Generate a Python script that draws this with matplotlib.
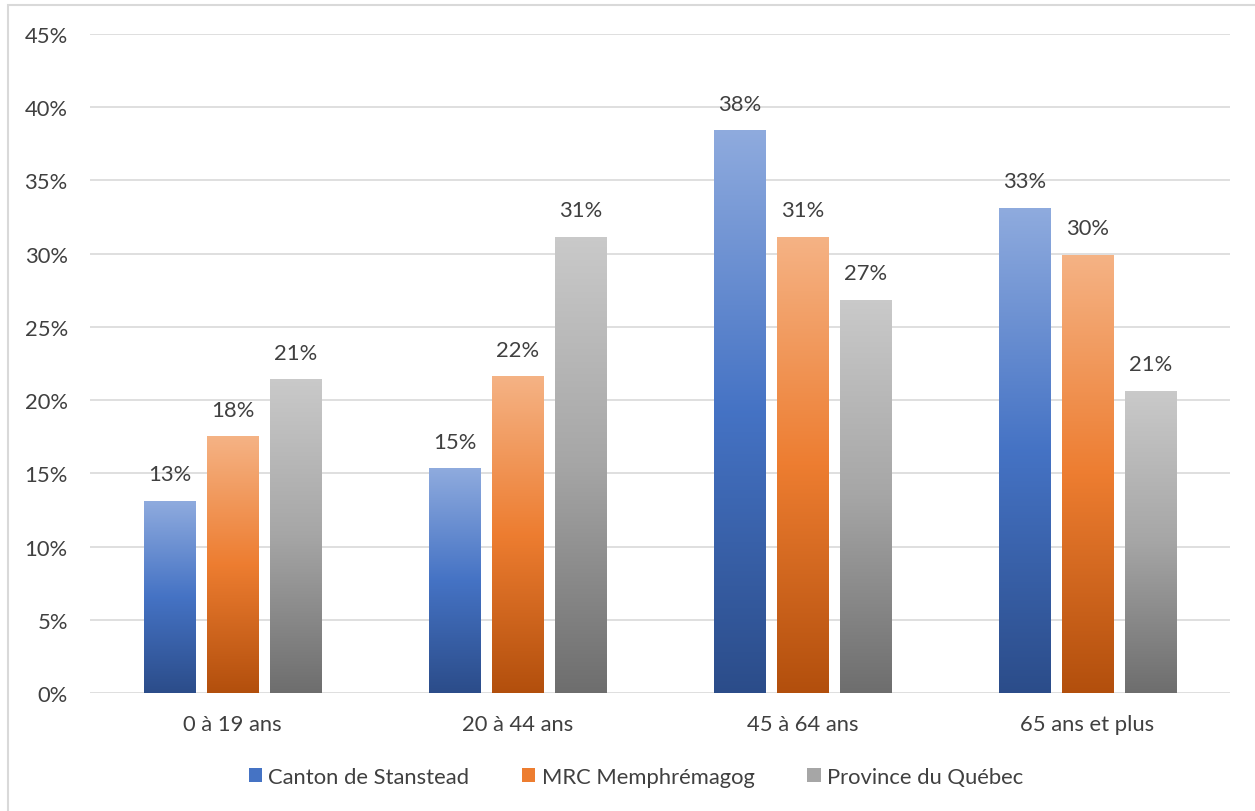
import numpy as np
import matplotlib.pyplot as plt
from matplotlib.colors import LinearSegmentedColormap
from matplotlib.patches import Rectangle

plt.rcParams['font.family'] = ['Lato', 'DejaVu Sans']

categories = ['0 à 19 ans', '20 à 44 ans', '45 à 64 ans', '65 ans et plus']
stanstead = [13.1, 15.3, 38.4, 33.1]
memphremagog = [17.5, 21.6, 31.1, 29.9]
quebec = [21.4, 31.1, 26.8, 20.6]
series_names = ['Canton de Stanstead', 'MRC Memphrémagog', 'Province du Québec']
yticks = [0, 5, 10, 15, 20, 25, 30, 35, 40, 45]

# light top -> base -> dark bottom, like the Excel gradient fill
palettes = [
    [(0.56, 0.67, 0.87), (0.27, 0.45, 0.77), (0.17, 0.30, 0.54)],
    [(0.96, 0.70, 0.52), (0.93, 0.49, 0.19), (0.70, 0.31, 0.05)],
    [(0.79, 0.79, 0.79), (0.65, 0.65, 0.65), (0.43, 0.43, 0.43)],
]

fig = plt.figure(figsize=(12.55, 8.12), dpi=100)
ax = fig.add_axes([90 / 1255, 1 - 694 / 812, 1140 / 1255, 659 / 812])

x = np.arange(len(categories))
width = 0.179
offset = 0.221
text_col = '#404040'
fs = 15.8

grad = np.linspace(0, 1, 256).reshape(-1, 1)
for i, vals in enumerate([stanstead, memphremagog, quebec]):
    cmap = LinearSegmentedColormap.from_list('g%d' % i, palettes[i][::-1])
    for j, v in enumerate(vals):
        xc = x[j] + (i - 1) * offset
        ax.imshow(grad, extent=(xc - width / 2, xc + width / 2, 0, v), origin='lower',
                  cmap=cmap, aspect='auto', zorder=3, interpolation='bilinear')
        ax.annotate('%d%%' % round(v), (xc, v), xytext=(0, 19.5), textcoords='offset points',
                    ha='center', va='center', fontsize=fs, color=text_col)

ax.set_xlim(-0.5, len(categories) - 0.5)
ax.set_ylim(0, 45)
ax.set_yticks(yticks)
ax.set_yticklabels(['%d%%' % t for t in yticks])
ax.set_xticks(x)
ax.set_xticklabels(categories)
ax.tick_params(length=0, labelsize=fs, labelcolor=text_col)
ax.tick_params(axis='y', pad=16)
ax.tick_params(axis='x', pad=15)
ax.grid(axis='y', color='#d9d9d9', linewidth=1.2, zorder=0)
ax.set_axisbelow(True)
for s in ax.spines.values():
    s.set_visible(False)

handles = [Rectangle((0, 0), 1, 1, facecolor=palettes[i][1], edgecolor='none') for i in range(3)]
fig.legend(handles, series_names, loc='center', bbox_to_anchor=(636 / 1255, 1 - 778 / 812),
           ncol=3, frameon=False, fontsize=fs, labelcolor=text_col, handlelength=0.6,
           handleheight=0.6, handletextpad=0.3, columnspacing=2.4)

# light grey chart frame
fig.patches.append(Rectangle((8 / 1255, -0.1), 1.1, 1.1 - 6 / 812, transform=fig.transFigure,
                             fill=False, edgecolor='#d9d9d9', linewidth=1.5))

fig.savefig('out.png', dpi=100)
